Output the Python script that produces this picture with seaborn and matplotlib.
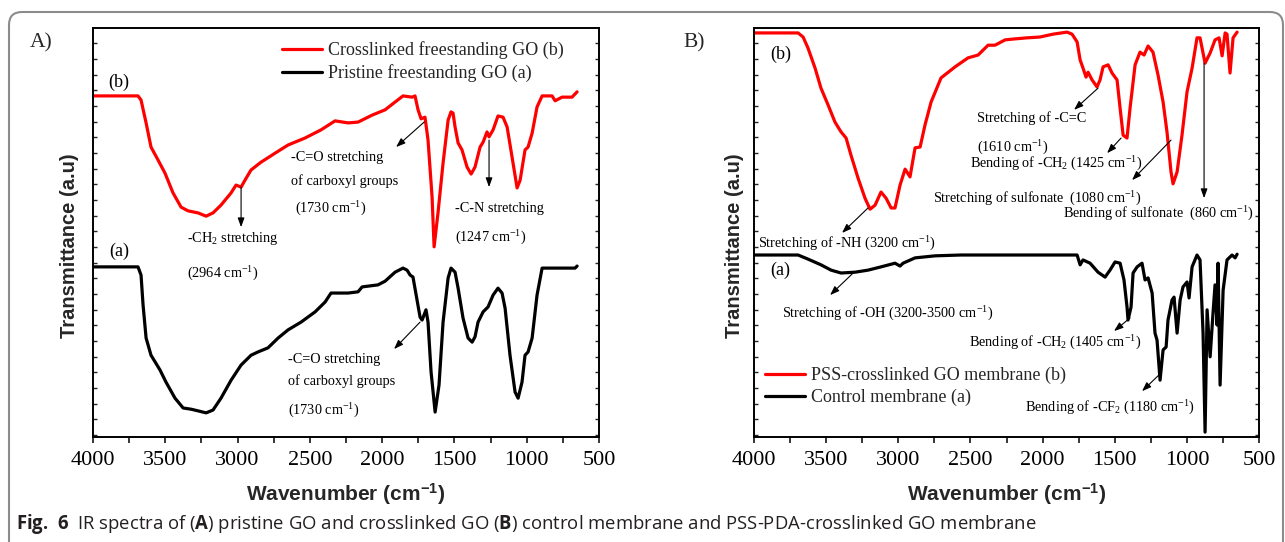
import numpy as np
import matplotlib
matplotlib.use("Agg")
import matplotlib.pyplot as plt
import seaborn as sns
from matplotlib.patches import FancyBboxPatch
from matplotlib.ticker import MultipleLocator

# ---------------- data (wavenumber cm-1, transmittance a.u.) ----------------
# Panel A, crosslinked freestanding GO (b)
a_cross_wn = [4000, 3689, 3668, 3633, 3599, 3550, 3502, 3447, 3391, 3343, 3274, 3218, 3170,
              3115, 3045, 3011, 2976, 2949, 2907, 2838, 2741, 2651, 2534, 2423, 2326, 2236,
              2167, 2070, 1980, 1911, 1856, 1793, 1773, 1752, 1731, 1704, 1683, 1655, 1641,
              1614, 1579, 1544, 1524, 1510, 1496, 1475, 1448, 1413, 1385, 1358, 1323, 1302,
              1275, 1261, 1233, 1199, 1164, 1136, 1102, 1067, 1046, 1012, 991, 963, 929, 894,
              825, 804, 756, 687, 652]
a_cross_t = [83.4, 83.4, 82.4, 76.8, 70.9, 67.7, 64.5, 59.7, 56.2, 55.3, 54.8, 54.0, 54.8,
             56.7, 59.7, 61.6, 61.1, 62.8, 65.3, 67.2, 69.4, 71.4, 73.1, 75.1, 77.3, 76.8,
             77.0, 78.7, 80.0, 81.9, 83.4, 83.1, 83.4, 80.0, 77.8, 78.2, 72.6, 58.7, 46.5,
             54.8, 67.0, 77.5, 79.5, 79.2, 75.8, 71.9, 70.2, 66.0, 64.3, 66.0, 70.9, 72.1,
             74.6, 73.4, 75.1, 78.5, 78.2, 75.8, 68.5, 60.9, 62.8, 70.2, 70.9, 74.3, 80.7, 83.4,
             83.4, 82.2, 83.1, 83.1, 84.4]
# Panel A, pristine freestanding GO (a)
a_pris_wn = [4000, 3689, 3668, 3654, 3633, 3599, 3537, 3495, 3433, 3377, 3322, 3274, 3218,
             3170, 3115, 3045, 2976, 2907, 2859, 2790, 2720, 2651, 2561, 2464, 2395, 2354,
             2285, 2236, 2167, 2139, 2029, 1980, 1911, 1856, 1828, 1807, 1787, 1759, 1738,
             1724, 1697, 1683, 1662, 1634, 1607, 1579, 1544, 1524, 1496, 1475, 1441, 1406,
             1378, 1358, 1337, 1302, 1268, 1233, 1199, 1171, 1150, 1116, 1081, 1060, 1033,
             1012, 991, 963, 929, 894, 825, 666, 652]
a_pris_t = [41.6, 41.6, 39.6, 32.3, 24.2, 20.0, 16.4, 13.4, 9.5, 7.1, 6.8, 6.4, 5.9,
            6.6, 9.5, 13.9, 17.6, 20.0, 20.8, 21.8, 24.2, 26.2, 28.1, 30.6, 33.0, 35.2,
            35.2, 35.2, 35.5, 36.7, 37.2, 38.1, 40.3, 41.3, 40.8, 39.6, 39.1, 33.5, 29.3,
            28.6, 31.1, 28.1, 15.9, 6.1, 12.7, 28.1, 38.9, 41.3, 40.3, 36.4, 29.1, 24.2,
            23.2, 24.5, 28.1, 30.6, 31.8, 34.7, 36.4, 35.2, 31.5, 20.0, 11.0, 9.5, 13.4,
            20.0, 20.8, 24.2, 34.7, 41.3, 41.3, 41.3, 41.8]
# Panel B, PSS-crosslinked GO membrane (b)
b_pss_wn = [4000, 3695, 3660, 3626, 3577, 3536, 3487, 3439, 3397, 3362, 3328, 3279, 3231,
            3196, 3161, 3120, 3085, 3050, 3023, 2988, 2953, 2919, 2884, 2849, 2815, 2773,
            2704, 2607, 2517, 2447, 2378, 2330, 2260, 2205, 2108, 2018, 1928, 1831, 1796,
            1761, 1740, 1720, 1699, 1685, 1657, 1623, 1602, 1581, 1546, 1519, 1484, 1463,
            1442, 1415, 1394, 1359, 1325, 1297, 1269, 1235, 1200, 1165, 1138, 1110, 1096,
            1068, 1034, 999, 964, 930, 909, 874, 839, 805, 777, 756, 735, 722, 701, 680, 652]
b_pss_t = [98.8, 98.8, 97.8, 95.1, 90.2, 85.3, 81.2, 77.0, 74.6, 73.1, 68.9, 63.3, 58.4,
           55.7, 56.7, 59.9, 58.4, 56.0, 56.0, 61.6, 65.5, 63.6, 70.7, 70.9, 76.3, 81.9,
           87.8, 90.5, 92.7, 93.4, 95.8, 95.8, 97.1, 97.3, 97.6, 97.8, 98.5, 99.0, 98.5,
           96.6, 92.2, 90.2, 88.0, 89.2, 87.3, 85.6, 87.3, 90.5, 91.0, 89.0, 87.3, 80.4,
           73.8, 73.1, 80.4, 91.0, 94.1, 93.4, 95.6, 94.1, 88.5, 81.9, 74.6, 64.8, 61.9,
           64.8, 73.8, 84.4, 90.2, 97.6, 97.6, 91.4, 93.9, 97.1, 97.6, 93.2, 98.8, 98.5,
           89.0, 97.6, 99.0]
# Panel B, control membrane (a)
b_ctrl_wn = [4000, 3695, 3626, 3536, 3466, 3397, 3300, 3210, 3120, 3023, 2988, 2967, 2884,
             2745, 2565, 2240, 1761, 1740, 1720, 1671, 1616, 1567, 1533, 1498, 1463, 1436,
             1415, 1408, 1387, 1373, 1345, 1311, 1290, 1269, 1241, 1221, 1207, 1186, 1165,
             1144, 1131, 1103, 1089, 1068, 1047, 1027, 999, 985, 964, 930, 909, 888, 874,
             860, 839, 819, 805, 791, 784, 770, 749, 722, 687, 666, 652]
b_ctrl_t = [44.5, 44.5, 43.5, 42.1, 40.8, 40.1, 40.3, 40.8, 41.6, 42.5, 41.8, 42.5, 43.8,
            44.3, 44.5, 44.5, 44.5, 42.1, 43.3, 42.5, 40.3, 39.1, 40.8, 42.8, 42.5, 38.4,
            31.8, 28.6, 31.8, 40.1, 41.6, 42.5, 38.4, 38.9, 35.2, 25.4, 23.7, 13.9, 21.3,
            22.0, 28.6, 33.5, 34.2, 25.4, 33.5, 36.7, 37.9, 34.0, 41.6, 44.5, 43.3, 25.4, 1.2,
            31.1, 19.6, 30.3, 37.2, 27.4, 42.5, 12.7, 35.9, 43.3, 44.5, 43.8, 44.7]

x_ticks = [4000, 3500, 3000, 2500, 2000, 1500, 1000, 500]
legend_a = ["Crosslinked freestanding GO (b)", "Pristine freestanding GO (a)"]
legend_b = ["PSS-crosslinked GO membrane (b)", "Control membrane (a)"]
CM = r"cm$\mathregular{^{-1}}$"

# ---------------- style ----------------
sns.set_style("ticks")
plt.rcParams["font.family"] = ["Liberation Serif", "DejaVu Serif"]
plt.rcParams["mathtext.fontset"] = "custom"
plt.rcParams["mathtext.rm"] = "Open Sans"
plt.rcParams["mathtext.bf"] = "Open Sans:bold"

fig = plt.figure(figsize=(12.85, 5.42), dpi=100)
axA = fig.add_axes([0.0724, 0.1937, 0.3938, 0.7546])
axB = fig.add_axes([0.5868, 0.1937, 0.3930, 0.7546])

LW = 2.3
sns.lineplot(x=a_cross_wn, y=a_cross_t, ax=axA, color="#ff0000", lw=LW, sort=False,
             estimator=None, label=legend_a[0])
sns.lineplot(x=a_pris_wn, y=a_pris_t, ax=axA, color="black", lw=LW, sort=False,
             estimator=None, label=legend_a[1])
sns.lineplot(x=b_pss_wn, y=b_pss_t, ax=axB, color="#ff0000", lw=LW, sort=False,
             estimator=None, label=legend_b[0])
sns.lineplot(x=b_ctrl_wn, y=b_ctrl_t, ax=axB, color="black", lw=LW, sort=False,
             estimator=None, label=legend_b[1])


def style_axes(ax, ylab_x):
    ax.set_xlim(4000, 500)
    ax.set_ylim(0, 100)
    ax.set_xticks(x_ticks)
    ax.set_xticklabels([str(v) for v in x_ticks])
    ax.xaxis.set_minor_locator(MultipleLocator(250))
    ax.set_yticks(np.arange(0.5, 100, 3.83))
    ax.set_yticklabels([])
    ax.tick_params(axis="x", which="both", direction="out", length=4, width=1.1,
                   labelsize=16, pad=6, top=False, colors="black")
    ax.tick_params(axis="y", which="both", direction="in", length=3, width=1.0,
                   left=True, right=True, labelleft=False)
    for s in ax.spines.values():
        s.set_visible(True)
        s.set_linewidth(1.4)
        s.set_color("black")
    ax.set_xlabel("Wavenumber (" + CM + ")", fontfamily="Liberation Sans",
                  fontweight="bold", fontsize=15)
    ax.set_ylabel("Transmittance (a.u)", fontfamily="Liberation Sans",
                  fontweight="bold", fontsize=14.5)
    ax.xaxis.set_label_coords(0.5, -0.108)
    ax.yaxis.set_label_coords(ylab_x, 0.469)


style_axes(axA, -0.027)
style_axes(axB, -0.020)

leg_kw = dict(frameon=False, fontsize=13, handlelength=2.2, handletextpad=0.35,
              labelspacing=0.26, borderpad=0, borderaxespad=0, loc="upper left")
axA.legend(bbox_to_anchor=(0.3735, 0.967), **leg_kw)
axB.legend(bbox_to_anchor=(0.0218, 0.172), **leg_kw)

AFS = 10.3


def note(ax, x, y, s, fs=AFS):
    ax.text(x, y, s, fontsize=fs, ha="left", va="baseline", color="black")


def arrow(ax, tail, head):
    ax.annotate("", xy=head, xytext=tail,
                arrowprops=dict(arrowstyle="-|>,head_length=0.55,head_width=0.2",
                                color="black", lw=0.8, shrinkA=0, shrinkB=0))


# Panel A annotations
note(axA, 3896, 85.5, "(b)", 13)
note(axA, 3889, 44.2, "(a)", 13)
note(axA, 2630, 67.4, "-C=O stretching")
note(axA, 2630, 61.7, "of carboxyl groups")
note(axA, 2603, 54.9, "(1730 " + CM + ")")
note(axA, 3350, 47.6, r"-CH$\mathregular{_2}$ stretching")
note(axA, 3350, 39.0, "(2964 " + CM + ")")
note(axA, 1496, 54.9, "-C-N stretching")
note(axA, 1496, 47.8, "(1247 " + CM + ")")
note(axA, 2651, 18.2, "-C=O stretching")
note(axA, 2651, 12.6, "of carboxyl groups")
note(axA, 2651, 5.5, "(1730 " + CM + ")")
arrow(axA, (1710, 77.0), (1904, 70.9))
arrow(axA, (2976, 61.1), (2976, 51.3))
arrow(axA, (1261, 72.6), (1261, 61.1))
arrow(axA, (1738, 28.1), (1918, 21.5))

# Panel B annotations
note(axB, 3889, 92.4, "(b)", 13)
note(axB, 3889, 39.6, "(a)", 13)
note(axB, 2454, 76.9, "Stretching of -C=C")
note(axB, 2454, 69.8, "(1610 " + CM + ")")
note(axB, 2503, 65.9, r"Bending of -CH$\mathregular{_2}$ (1425 " + CM + ")")
note(axB, 2759, 57.3, "Stretching of sulfonate  (1080 " + CM + ")")
note(axB, 1858, 53.7, "Bending of sulfonate  (860 " + CM + ")")
note(axB, 3972, 46.3, "Stretching of -NH (3200 " + CM + ")")
note(axB, 3806, 29.2, "Stretching of -OH (3200-3500 " + CM + ")")
note(axB, 2510, 22.1, r"Bending of -CH$\mathregular{_2}$ (1405 " + CM + ")")
note(axB, 2122, 6.2, r"Bending of -CF$\mathregular{_2}$ (1180 " + CM + ")")
arrow(axB, (1616, 85.3), (1782, 80.0))
arrow(axB, (1456, 73.1), (1553, 69.4))
arrow(axB, (1110, 72.6), (1380, 62.8))
arrow(axB, (881, 91.4), (881, 58.4))
arrow(axB, (3210, 56.0), (3390, 49.9))
arrow(axB, (3307, 40.3), (3473, 34.7))
arrow(axB, (1394, 29.1), (1505, 25.9))
arrow(axB, (1193, 15.2), (1311, 11.2))

# Panel letters
fig.text(30 / 1285, 1 - 43 / 542, "A)", fontsize=15.5, va="center", ha="left")
fig.text(683 / 1285, 1 - 43 / 542, "B)", fontsize=15.5, va="center", ha="left")

# Caption
caption = (r"$\mathbf{Fig.\ 6}$  IR spectra of ($\mathbf{A}$) pristine GO and crosslinked GO "
           r"($\mathbf{B}$) control membrane and PSS-PDA-crosslinked GO membrane")
fig.text(16 / 1285, 1 - 524 / 542, caption, fontsize=13.35, va="center", ha="left",
         fontfamily=["Open Sans", "DejaVu Sans"], color="#231f20")

# Outer rounded frame
frame = FancyBboxPatch((0.09, -0.4), 12.74, 5.70,
                       boxstyle="round,pad=0,rounding_size=0.13",
                       transform=fig.dpi_scale_trans, facecolor="none",
                       edgecolor="#8c8c8c", lw=1.5, clip_on=False)
fig.add_artist(frame)

fig.savefig("out.png", dpi=100)
